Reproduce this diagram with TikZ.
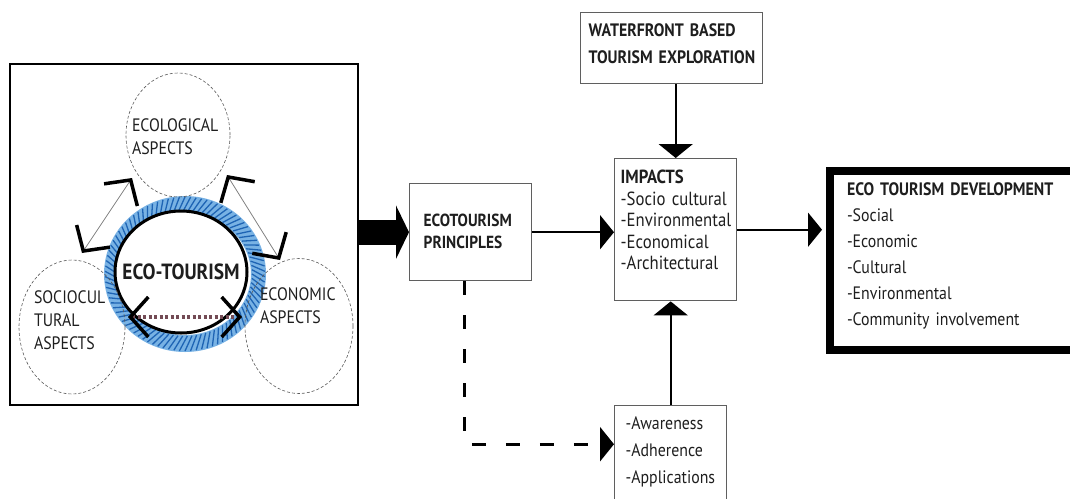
\documentclass[tikz,border=0pt]{standalone}
\usepackage{fontspec}
\setmainfont{PT Sans}[FakeStretch=0.88]
\usetikzlibrary{shapes.geometric, arrows.meta, positioning, calc}

\definecolor{ringblue}{RGB}{120,178,228}
\definecolor{hatchblue}{RGB}{30,100,180}
\definecolor{boxline}{RGB}{95,95,95}
\definecolor{dotline}{RGB}{115,75,85}
\definecolor{ink}{RGB}{30,30,30}

\newcommand{\fsz}[2]{\fontsize{#1}{#2}\selectfont}

\begin{document}
\begin{tikzpicture}[>={Triangle[length=14pt, width=34pt]}, x=1pt, y=-1pt, font=\fsz{18}{21.5}, text=ink,
  box/.style={draw=boxline, line width=1.4pt, anchor=north west, align=left, inner ysep=0pt},
  aspect/.style={ellipse, draw=gray!70!black, densely dashed, line width=0.6pt, align=left, inner xsep=-20pt, inner ysep=0pt, text height=12pt, font=\fsz{18}{23}},
  chev/.tip={Straight Barb[length=18pt, width=40pt, line width=3.5pt, color=black]},
  flow/.style={line width=2pt, ->}]
\useasboundingbox (0,0) rectangle (1070,498);
\clip (0,0) rectangle (1070,498);
%
\node[draw, line width=2.5pt, minimum width=348pt, minimum height=341pt] (panel) at (184,234.5) {};
\coordinate (hub) at (185,274);
\fill[ringblue, even odd rule] (hub) ellipse [x radius=81, y radius=78] (hub) ellipse [x radius=66, y radius=61];
\foreach \a in {0,4,...,356}
  \draw[hatchblue, line width=1.3pt] ($(hub)+(\a:67 and 62)$) -- ($(hub)+(\a+6:80 and 77)$);
\node[ellipse, draw, fill=white, line width=3pt, minimum width=132pt, minimum height=122pt, inner xsep=-20pt, inner ysep=0pt, font=\fsz{22}{24}\bfseries] (eco) at (181,272) {ECO-TOURISM};
\node[aspect, minimum width=104pt, minimum height=124pt, text width=92pt, text depth=20pt] (ecol) at (178,135) {ECOLOGICAL\\ASPECTS};
\node[aspect, minimum width=106pt, minimum height=134pt, text width=76pt, text depth=59pt] (socio) at (72,327) {SOCIOCUL\\TURAL\\ASPECTS};
\node[aspect, minimum width=108pt, minimum height=135pt, text width=78pt, text depth=63pt] (econ) at (299,326) {ECONOMIC\\ASPECTS};
%
\coordinate (sw) at (82,253);
\coordinate (nw) at (132,178);
\coordinate (ne) at (227,175);
\coordinate (se) at (280,260);
\coordinate (bw) at (128,317);
\coordinate (be) at (242,317);
\draw[gray, line width=0.8pt, chev-chev] (sw) -- (nw);
\draw[gray, line width=0.8pt, chev-chev] (ne) -- (se);
\draw[dotline, line width=4pt, dash pattern=on 3pt off 2.5pt, chev-chev] (bw) -- (be);
%
\node[box, inner xsep=8pt, text width=166pt, text height=24pt, text depth=47pt, font=\fsz{18}{27}\bfseries] (shore) at (580,12) {WATERFRONT BASED\\\mbox{TOURISM EXPLORATION}};
\node[box, inner xsep=14pt, text width=94pt, text height=43pt, text depth=54pt, font=\fsz{17.5}{22}\bfseries] (principles) at (409,183) {ECOTOURISM\\PRINCIPLES};
\node[box, inner xsep=6pt, text width=110pt, text height=25pt, text depth=117pt, font=\fsz{19}{21.5}] (impacts) at (614,158) {\textbf{IMPACTS}\\\mbox{-Socio cultural}\\\mbox{-Environmental}\\\mbox{-Economical}\\\mbox{-Architectural}};
\node[box, draw=black, line width=8pt, inner xsep=17pt, text width=218pt, text height=24pt, text depth=155pt, font=\fsz{18}{26}] (dev) at (826,167) {\mbox{\textbf{ECO TOURISM DEVELOPMENT}}\\-Social\\-Economic\\-Cultural\\\mbox{-Environmental}\\\mbox{-Community involvement}};
\node[box, inner xsep=11pt, text width=90pt, text height=24pt, text depth=91pt, font=\fsz{18}{27}] (aware) at (614,405) {\mbox{-Awareness}\\\mbox{-Adherence}\\\mbox{-Applications}};
%
\draw[line width=25pt, -{Triangle[length=13pt, width=53pt]}] (panel.east |- principles.west) -- (principles.west);
\draw[flow] (principles.east) -- (principles.east -| impacts.west);
\draw[flow, shorten >=4pt] (impacts.east) -- (impacts.east -| dev.west);
\draw[flow] (impacts.north |- shore.south) -- (impacts.north);
\draw[flow] (aware.north) -- (aware.north |- impacts.south);
\draw[->, line width=3pt, dash pattern=on 14pt off 20pt] ([xshift=-6pt]principles.south) |- ([yshift=19pt]aware.west);
\end{tikzpicture}
\end{document}
